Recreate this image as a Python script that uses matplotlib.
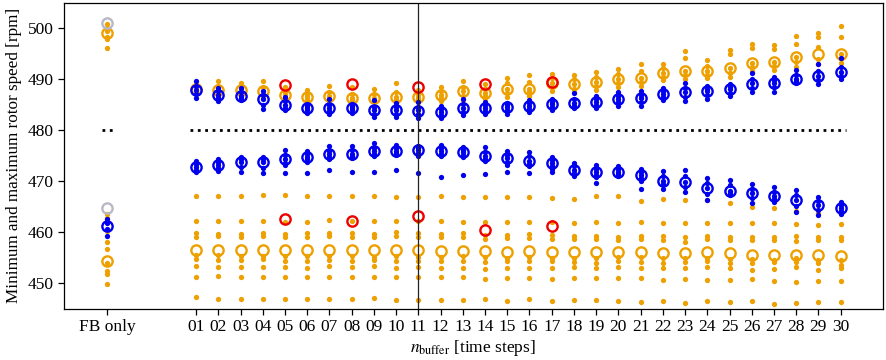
import matplotlib
matplotlib.use("Agg")
import matplotlib.pyplot as plt

plt.rcParams["font.family"] = ["Liberation Serif", "DejaVu Serif"]
plt.rcParams["mathtext.fontset"] = "stix"
plt.rcParams["font.size"] = 12

# x positions: "FB only" sits a few slots left of buffer 01
fb_x = -3
buffers = list(range(1, 31))
tick_labels = ["FB only"] + ["%02d" % b for b in buffers]

# circles (means) per buffer length
blue_max_mean = [488.0, 487.0, 486.8, 486.2, 485.0, 484.4, 484.4, 484.3, 483.9, 483.9,
                 483.8, 483.6, 484.3, 484.4, 484.5, 484.8, 485.1, 485.3, 485.6, 486.2,
                 486.4, 487.2, 487.5, 487.7, 488.1, 489.1, 489.3, 490.1, 490.7, 491.5]
orange_max_mean = [488.1, 488.0, 488.0, 487.7, 486.9, 486.5, 486.7, 486.4, 486.4, 486.5,
                   486.5, 487.0, 487.7, 487.4, 488.2, 488.2, 489.2, 489.0, 489.4, 490.0,
                   490.3, 491.2, 491.6, 491.6, 492.2, 493.3, 493.4, 494.3, 495.0, 495.0]
blue_min_mean = [472.8, 473.3, 473.8, 473.8, 474.3, 474.8, 475.3, 475.3, 475.9, 476.0,
                 476.1, 475.9, 475.7, 474.9, 474.5, 474.0, 473.6, 472.3, 471.9, 471.9,
                 471.2, 470.1, 469.8, 468.8, 468.1, 467.7, 467.1, 466.4, 465.3, 464.7]
orange_min_mean = [456.5, 456.5, 456.5, 456.5, 456.5, 456.5, 456.5, 456.5, 456.5, 456.5,
                   456.5, 456.4, 456.3, 456.3, 456.2, 456.3, 456.2, 456.2, 456.2, 456.2,
                   456.2, 456.0, 456.0, 456.1, 455.9, 455.6, 455.6, 455.5, 455.5, 455.3]

red_x = [5, 8, 11, 14, 17]
red_max = [488.9, 489.1, 488.5, 489.1, 489.4]
red_min = [462.6, 462.3, 463.2, 460.4, 461.2]

# single runs (small dots), one list per buffer length
blue_max_dots = [
    [489.6, 488.8, 488.0, 487.2, 486.4], [488.4, 487.7, 487.0, 486.4, 485.7],
    [488.3, 487.5, 486.8, 486.4, 485.9], [487.8, 487.0, 486.2, 485.0, 484.2],
    [486.5, 485.8, 485.0, 484.4, 483.9], [485.2, 484.8, 484.4, 483.9, 483.4],
    [486.1, 485.0, 484.4, 483.8, 483.3], [485.2, 484.7, 484.3, 483.9, 483.5],
    [486.0, 484.5, 483.9, 483.2, 482.6], [485.3, 484.5, 483.9, 483.2, 482.6],
    [485.5, 484.6, 483.9, 483.2, 482.5], [484.8, 484.2, 483.7, 483.1, 482.5],
    [486.1, 485.2, 484.4, 483.7, 483.1], [485.5, 484.9, 484.4, 483.8, 483.2],
    [485.4, 484.9, 484.5, 483.9, 483.3], [486.0, 485.4, 484.8, 484.2, 483.6],
    [486.2, 485.6, 485.1, 484.5, 484.0], [487.3, 486.2, 485.3, 484.8, 484.3],
    [486.8, 486.2, 485.6, 484.9, 484.3], [487.5, 486.8, 486.2, 485.5, 484.8],
    [487.8, 487.0, 486.4, 485.6, 484.8], [488.3, 487.8, 487.2, 486.6, 486.0],
    [489.3, 488.3, 487.5, 486.6, 485.8], [488.8, 488.2, 487.7, 487.0, 486.2],
    [489.0, 488.6, 488.1, 487.4, 486.8], [491.2, 490.0, 489.2, 488.4, 487.6],
    [490.5, 489.8, 489.3, 488.5, 487.6], [491.8, 490.8, 490.1, 489.6, 489.2],
    [493.1, 491.6, 490.7, 489.9, 489.1], [494.1, 492.5, 491.5, 490.7, 490.0],
]
orange_max_dots = [
    [489.0, 488.6, 488.1, 487.7, 487.3], [489.6, 488.7, 488.0, 487.4, 486.8],
    [489.3, 488.6, 488.0, 487.5, 487.0], [489.7, 488.5, 487.7, 487.0, 486.5],
    [488.5, 487.6, 486.9, 486.4, 486.0], [487.9, 487.1, 486.5, 486.0, 485.5],
    [488.7, 487.5, 486.7, 486.2, 485.8], [488.5, 487.2, 486.4, 485.9, 485.5],
    [488.2, 487.2, 486.4, 485.9, 485.5], [489.2, 487.5, 486.5, 486.0, 485.5],
    [487.9, 487.2, 486.5, 486.1, 485.8], [488.5, 487.7, 487.0, 486.4, 485.8],
    [489.6, 488.6, 487.7, 486.8, 486.0], [489.0, 488.2, 487.4, 486.8, 486.2],
    [490.3, 489.2, 488.2, 487.3, 486.5], [490.9, 489.5, 488.2, 487.5, 486.8],
    [491.1, 490.2, 489.2, 488.5, 487.8], [490.9, 490.0, 489.0, 488.2, 487.5],
    [491.5, 490.4, 489.4, 488.7, 488.0], [492.1, 491.0, 490.0, 489.3, 488.6],
    [493.1, 491.6, 490.3, 489.5, 488.7], [493.1, 492.2, 491.2, 490.5, 489.8],
    [495.5, 494.1, 491.6, 490.8, 490.0], [493.8, 492.6, 491.6, 490.9, 490.2],
    [495.7, 494.9, 492.2, 491.3, 490.5], [496.9, 496.2, 493.3, 492.4, 491.6],
    [496.7, 496.0, 493.4, 492.6, 491.8], [498.6, 496.9, 494.3, 493.4, 492.5],
    [499.1, 498.4, 496.3, 494.0, 493.0], [500.4, 498.4, 495.0, 494.0, 493.2],
]
blue_min_dots = [
    [473.9, 473.4, 472.8, 472.3, 471.8], [474.3, 473.8, 473.3, 472.6, 472.0],
    [474.8, 474.3, 473.8, 472.8, 471.9], [474.8, 474.3, 473.8, 472.7, 471.7],
    [476.2, 475.2, 474.3, 473.7, 473.2, 471.7], [476.0, 475.4, 474.8, 474.3, 473.8, 471.7],
    [476.9, 476.0, 475.3, 474.8, 474.3, 472.2], [477.0, 476.1, 475.3, 474.9, 474.5, 471.9],
    [477.5, 476.6, 475.9, 475.4, 475.0, 471.8], [477.2, 476.6, 476.0, 475.6, 475.2, 472.2],
    [477.0, 476.5, 476.1, 475.5, 475.0, 471.6], [477.1, 476.5, 475.9, 475.4, 475.0, 470.8],
    [476.8, 476.2, 475.7, 475.2, 474.8, 471.2], [476.8, 475.8, 474.9, 474.4, 474.0, 471.5],
    [476.0, 475.2, 474.5, 473.8, 473.2, 471.9], [475.8, 474.9, 474.0, 473.5, 473.0, 471.7],
    [474.8, 474.2, 473.6, 473.0, 472.4, 471.9], [473.6, 473.0, 472.3, 471.6, 471.0],
    [473.2, 472.5, 471.9, 471.3, 470.8, 469.7], [473.0, 472.4, 471.9, 471.4, 471.0],
    [472.5, 471.8, 471.2, 470.6, 470.0, 468.6], [472.1, 471.0, 470.1, 469.4, 468.6],
    [472.2, 471.0, 469.8, 468.9, 468.0], [470.6, 469.6, 468.8, 467.5, 466.3],
    [470.2, 469.2, 468.1, 467.7, 467.3], [469.4, 468.6, 467.7, 466.7, 465.7],
    [468.9, 468.0, 467.1, 466.5, 466.0], [468.4, 467.3, 466.4, 465.1, 463.9],
    [467.0, 466.1, 465.3, 464.3, 463.4], [466.0, 465.3, 464.7, 464.2, 463.7],
]
# lower orange runs, one list per run across buffers 01..30
orange_min_runs = [
    [467.2, 467.1, 467.1, 467.3, 467.3, 467.1, 467.1, 467.1, 467.2, 467.0, 467.0, 467.1, 466.9, 467.0, 466.9,
     466.9, 466.8, 466.5, 467.2, 467.1, 466.2, 466.5, 466.4, 466.3, 465.7, 464.9, 464.7, 464.2, 463.8, 463.6],
    [462.3, 462.3, 462.3, 462.3, 462.1, 462.1, 462.4, 462.3, 462.2, 462.2, 462.3, 462.3, 462.1, 462.0, 462.1,
     462.1, 462.0, 461.9, 462.1, 461.8, 462.0, 461.9, 461.9, 461.9, 461.8, 461.9, 461.8, 461.7, 461.5, 461.6],
    [459.9, 459.7, 459.7, 459.8, 459.7, 459.8, 459.9, 459.9, 459.7, 460.0, 459.8, 459.6, 459.8, 459.5, 459.4,
     459.6, 459.5, 459.3, 459.2, 459.1, 459.3, 459.2, 459.1, 459.3, 459.1, 459.0, 459.1, 459.2, 459.0, 459.0],
    [459.1, 459.2, 459.1, 459.2, 459.0, 459.1, 459.2, 459.0, 459.1, 459.2, 459.0, 459.0, 459.1, 458.8, 458.9,
     458.9, 458.7, 458.8, 458.8, 458.6, 458.7, 458.5, 458.2, 458.7, 458.5, 458.6, 458.6, 458.3, 458.6, 458.5],
    [455.5, 455.5, 455.3, 455.4, 455.3, 455.4, 455.3, 455.3, 455.2, 455.4, 455.2, 455.1, 455.3, 455.2, 455.0,
     455.1, 455.0, 455.0, 454.9, 455.2, 455.1, 455.0, 454.9, 455.0, 454.8, 454.7, 454.6, 454.9, 454.6, 454.5],
    [454.7, 454.6, 454.6, 454.7, 454.4, 454.4, 454.6, 454.4, 454.5, 454.3, 454.4, 454.4, 454.3, 454.2, 454.4,
     454.4, 454.3, 454.2, 454.0, 454.3, 454.1, 454.0, 454.1, 454.3, 453.9, 454.0, 454.2, 454.1, 453.9, 453.7],
    [453.4, 453.3, 453.2, 453.3, 453.3, 453.1, 453.4, 453.2, 453.4, 453.1, 453.3, 453.0, 453.1, 452.9, 453.0,
     453.1, 453.0, 453.2, 453.1, 453.2, 453.0, 453.1, 453.0, 453.2, 453.1, 452.6, 452.9, 453.2, 452.7, 453.1],
    [451.3, 451.4, 451.3, 451.3, 451.2, 451.2, 451.2, 451.2, 451.2, 451.2, 451.2, 451.2, 451.2, 450.9, 451.0,
     451.0, 450.9, 451.0, 451.1, 451.1, 451.1, 450.7, 450.8, 450.7, 450.7, 450.8, 450.5, 450.2, 450.5, 450.4],
    [447.3, 447.0, 446.9, 446.9, 446.9, 447.0, 446.9, 446.9, 447.1, 446.8, 446.7, 446.8, 446.8, 446.9, 446.6,
     446.9, 446.6, 446.8, 446.7, 446.6, 446.3, 446.6, 446.2, 446.6, 446.3, 446.5, 446.0, 446.2, 446.3, 446.4],
]

# FB only column
fb_gray = [501.0, 464.7]
fb_orange_max_mean = 499.0
fb_orange_max_dots = [500.9, 500.1, 499.4, 498.4, 497.9, 496.2]
fb_orange_min_mean = 454.3
fb_orange_min_dots = [463.6, 462.9, 460.3, 458.2, 456.7, 454.0, 452.4, 451.9, 449.9]
fb_blue_min_mean = 461.2
fb_blue_min_dots = [462.7, 461.8, 460.7, 459.3]

rated_speed = 480

BLUE = "#0000ee"
ORANGE = "#eea000"
RED = "#ee0000"
GRAY = "#b8b8c6"

dot = dict(ls="none", marker="o", ms=3.8, mew=0)
ring = dict(ls="none", marker="o", ms=7.4, mfc="none", mew=1.7)

fig = plt.figure(figsize=(8.86, 3.6), dpi=100)
ax = fig.add_axes([0.072, 0.142, 0.9245, 0.85])

# orange (lower layer)
for i, b in enumerate(buffers):
    ax.plot([b] * len(orange_max_dots[i]), orange_max_dots[i], color=ORANGE, **dot)
for run in orange_min_runs:
    ax.plot(buffers, run, color=ORANGE, **dot)
ax.plot(buffers, orange_max_mean, color=ORANGE, **ring)
ax.plot(buffers, orange_min_mean, color=ORANGE, **ring)
ax.plot([fb_x] * len(fb_orange_max_dots), fb_orange_max_dots, color=ORANGE, **dot)
ax.plot([fb_x] * len(fb_orange_min_dots), fb_orange_min_dots, color=ORANGE, **dot)
ax.plot([fb_x, fb_x], [fb_orange_max_mean, fb_orange_min_mean], color=ORANGE, **ring)

# blue
for i, b in enumerate(buffers):
    ax.plot([b] * len(blue_max_dots[i]), blue_max_dots[i], color=BLUE, **dot)
    ax.plot([b] * len(blue_min_dots[i]), blue_min_dots[i], color=BLUE, **dot)
ax.plot(buffers, blue_max_mean, color=BLUE, **ring)
ax.plot(buffers, blue_min_mean, color=BLUE, **ring)
ax.plot([fb_x] * len(fb_blue_min_dots), fb_blue_min_dots, color=BLUE, **dot)
ax.plot([fb_x], [fb_blue_min_mean], color=BLUE, **ring)

# references
ax.plot([fb_x, fb_x], fb_gray, color=GRAY, **ring)
ax.plot(red_x, red_max, color=RED, **ring)
ax.plot(red_x, red_min, color=RED, **ring)

ax.hlines(rated_speed, 0.75, 30.25, colors="black", linestyles=":", lw=2.0)
ax.hlines(rated_speed, fb_x - 0.25, fb_x + 0.25, colors="black", linestyles=":", lw=2.0)
ax.axvline(11, color="#222222", lw=0.9)

ax.set_xlim(-4.95, 31.9)
ax.set_ylim(445, 505)
ax.set_yticks([450, 460, 470, 480, 490, 500])
ax.set_xticks([fb_x] + buffers)
ax.set_xticklabels(tick_labels)
ax.tick_params(direction="out", length=4, width=0.9, labelsize=12.5)
for s in ax.spines.values():
    s.set_linewidth(0.9)

ax.set_xlabel(r"$n_{\mathrm{buffer}}$ [time steps]", fontsize=12.5, labelpad=2)
ax.set_ylabel("Minimum and maximum rotor speed [rpm]", fontsize=12.3, labelpad=4)

fig.savefig("out.png", dpi=100)
